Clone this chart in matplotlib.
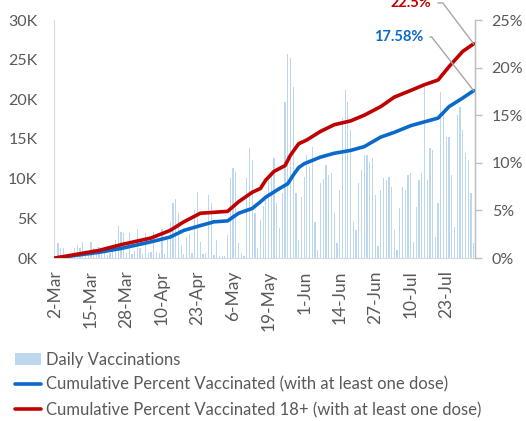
import numpy as np
import pandas as pd
import matplotlib
matplotlib.use("Agg")
import matplotlib.pyplot as plt

plt.rcParams["font.family"] = ["Lato", "DejaVu Sans"]

# daily vaccinations, 2-Mar to 2-Aug (values in thousands)
dates = pd.date_range("2021-03-02", "2021-08-02")
daily_k = [
    0.3, 1.9, 1.2, 1.2, 0.2, 0.3, 0.3, 1.2, 1.6, 1.2, 2.0, 1.0, 0.4, 2.0, 1.2,
    0.5, 1.4, 0.8, 0.6, 0.4, 0.6, 1.0, 2.3, 4.0, 3.3, 3.2, 0.6, 3.2, 0.5, 0.9,
    3.6, 1.2, 0.5, 3.2, 0.6, 0.8, 3.3, 0.7, 0.6, 3.6, 0.5, 2.3, 4.5, 6.9, 7.4,
    5.7, 1.6, 0.5, 2.6, 3.0, 0.6, 6.0, 8.3, 2.0, 0.5, 0.6, 7.9, 6.9, 0.4, 2.3,
    0.3, 0.2, 0.3, 2.9, 10.1, 11.4, 10.9, 1.9, 0.6, 0.3, 10.1, 13.9, 12.4, 5.7, 1.3,
    4.8, 6.5, 7.3, 10.0, 11.0, 12.6, 6.9, 3.8, 8.2, 19.7, 25.7, 25.2, 21.6, 8.2, 2.3,
    7.7, 10.2, 13.0, 11.5, 14.0, 4.5, 1.0, 9.5, 10.0, 11.7, 10.5, 10.7, 5.7, 1.9, 8.6,
    17.7, 21.2, 19.7, 16.1, 4.5, 3.5, 9.5, 11.1, 13.0, 13.0, 12.1, 12.6, 7.9, 1.5, 8.6,
    10.1, 9.8, 10.2, 9.0, 3.5, 1.0, 6.3, 9.0, 8.6, 10.5, 10.7, 2.0, 6.4, 9.8, 10.7,
    21.6, 9.8, 13.9, 13.6, 2.6, 6.9, 20.9, 18.4, 15.3, 15.3, 10.5, 3.9, 18.0, 19.0, 16.1,
    13.2, 12.4, 8.2, 1.9,
]

# cumulative percent vaccinated (read at these dates)
pct_dates = [
    "2021-03-02", "2021-03-18", "2021-03-26", "2021-04-06", "2021-04-13",
    "2021-04-18", "2021-04-24", "2021-04-29", "2021-05-04", "2021-05-08",
    "2021-05-13", "2021-05-16", "2021-05-18", "2021-05-23", "2021-05-26",
    "2021-05-28", "2021-05-30", "2021-06-01", "2021-06-07", "2021-06-12",
    "2021-06-18", "2021-06-23", "2021-06-29", "2021-07-04", "2021-07-10",
    "2021-07-15", "2021-07-20", "2021-07-24", "2021-07-29", "2021-08-02",
]
pct_all = [
    0.0, 0.6, 1.0, 1.7, 2.2, 2.9, 3.4, 3.8, 3.9, 4.7,
    5.2, 5.9, 6.4, 7.3, 7.8, 8.7, 9.5, 9.9, 10.6, 11.0,
    11.3, 11.7, 12.7, 13.2, 13.9, 14.3, 14.7, 15.9, 16.8, 17.58,
]
adult_dates = [
    "2021-03-02", "2021-03-18", "2021-03-26", "2021-04-06", "2021-04-13",
    "2021-04-18", "2021-04-24", "2021-04-29", "2021-05-04", "2021-05-08",
    "2021-05-13", "2021-05-16", "2021-05-18", "2021-05-21", "2021-05-25",
    "2021-05-27", "2021-05-30", "2021-06-02", "2021-06-07", "2021-06-12",
    "2021-06-18", "2021-06-23", "2021-06-29", "2021-07-04", "2021-07-10",
    "2021-07-15", "2021-07-20", "2021-07-24", "2021-07-29", "2021-08-02",
]
pct_adult = [
    0.0, 0.8, 1.4, 2.1, 2.9, 3.8, 4.7, 4.8, 4.9, 5.9,
    6.9, 7.3, 8.2, 9.1, 9.7, 10.8, 12.0, 12.4, 13.3, 14.0,
    14.4, 15.0, 15.9, 16.9, 17.6, 18.2, 18.7, 20.1, 21.7, 22.5,
]

blue = "#0A6ACB"
red = "#C00000"
bar_col = "#BDD7EE"
grey_txt = "#595959"

pos = {d: i for i, d in enumerate(dates)}
x = np.arange(len(dates))
xa = [pos[pd.Timestamp(d)] for d in pct_dates]
xr = [pos[pd.Timestamp(d)] for d in adult_dates]

fig = plt.figure(figsize=(5.26, 4.21), dpi=100)
ax = fig.add_axes([54 / 526, 1 - 258 / 421, 421 / 526, 238 / 421])
ax2 = ax.twinx()

bars = ax.bar(x, np.array(daily_k) * 1000, width=0.45, color=bar_col, label="Daily Vaccinations")
l1, = ax2.plot(xa, pct_all, color=blue, lw=2.6, solid_capstyle="round", solid_joinstyle="round",
               label="Cumulative Percent Vaccinated (with at least one dose)")
l2, = ax2.plot(xr, pct_adult, color=red, lw=2.6, solid_capstyle="round", solid_joinstyle="round",
               label="Cumulative Percent Vaccinated 18+ (with at least one dose)")

ax.set_xlim(-0.5, len(dates) - 0.5)
ax.set_ylim(0, 30000)
ax2.set_ylim(0, 25)
ax.set_yticks(np.arange(0, 30001, 5000))
ax.set_yticklabels([f"{v // 1000}K" for v in range(0, 30001, 5000)])
ax2.set_yticks(np.arange(0, 26, 5))
ax2.set_yticklabels([f"{v}%" for v in range(0, 26, 5)])
ax.set_xticks(x[::13])
ax.set_xticklabels([f"{d.day}-{d.strftime('%b')}" for d in dates[::13]], rotation=90)

ax.tick_params(axis="y", length=0, pad=12, labelsize=11.5, labelcolor=grey_txt)
ax.tick_params(axis="x", length=0, pad=9, labelsize=12.5, labelcolor=grey_txt)
ax2.tick_params(axis="y", length=5, width=1, color="#BFBFBF", pad=7, labelsize=11.5,
                labelcolor=grey_txt)

for a in (ax, ax2):
    a.spines["top"].set_visible(False)
ax.spines["left"].set_color("#D9D9D9")
ax.spines["bottom"].set_color("#D9D9D9")
ax2.spines["right"].set_color("#BFBFBF")
ax2.spines["left"].set_visible(False)
ax2.spines["bottom"].set_visible(False)

# end labels with leader lines
ax2.annotate("17.58%", xy=(xa[-1], pct_all[-1]), xytext=(423, 384),
             textcoords="figure pixels", ha="right", va="center", color=blue,
             fontsize=10.5, fontweight="bold", annotation_clip=False,
             arrowprops=dict(arrowstyle="-", color="#A6A6A6", lw=1, shrinkA=3, shrinkB=0,
                             connectionstyle="angle,angleA=0,angleB=-52,rad=0"))
ax2.annotate("22.5%", xy=(xr[-1], pct_adult[-1]), xytext=(431, 418),
             textcoords="figure pixels", ha="right", va="center", color=red,
             fontsize=10.5, fontweight="bold", annotation_clip=False,
             arrowprops=dict(arrowstyle="-", color="#A6A6A6", lw=1, shrinkA=3, shrinkB=0,
                             connectionstyle="angle,angleA=0,angleB=-53,rad=0"))

fig.legend(handles=[bars, l1, l2], loc="upper left", bbox_to_anchor=(0.028, 0.165),
           frameon=False, fontsize=12.0, labelcolor=grey_txt, handlelength=1.6,
           handletextpad=0.25, labelspacing=0.55, borderpad=0, borderaxespad=0)

fig.savefig("out.png", dpi=100)
